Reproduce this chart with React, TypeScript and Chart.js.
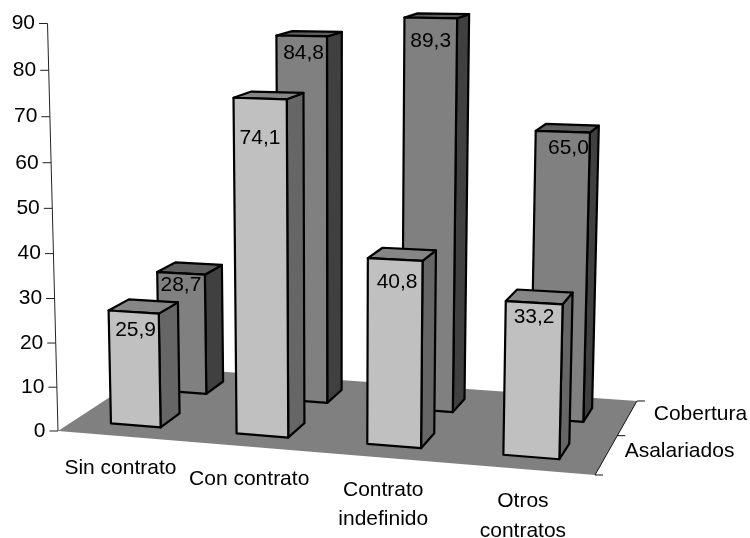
import React, { useEffect, useRef } from "react";
import { Chart, registerables } from "chart.js";

Chart.register(...registerables);

// Chart content
const categories = [["Sin contrato"], ["Con contrato"], ["Contrato", "indefinido"], ["Otros", "contratos"]];
const seriesNames = ["Asalariados", "Cobertura"];
const asalariados = [25.9, 74.1, 40.8, 33.2];
const cobertura = [28.7, 84.8, 89.3, 65.0];

// Face colours of each prism
const frontColors = ["#c0c0c0", "#808080"];
const sideColors = ["#666666", "#404040"];
const topColors = ["#868686", "#5e5e5e"];
const floorColor = "#808080";

// Value label offsets from the top centre of a bar's front face
const labelOffsets = [
  [[2, 18.5], [0, 40], [2, 22.5], [0, 15]],
  [[0, 12], [2, 17], [0, 23], [5.7, 16.5]],
];

// Perspective transform: (across, depth, height), each 0..1, to canvas pixels
const P = {
  a: 490.3, b: 117.2, p: -12.23, c: 58,
  d: 6.7, e: -18.75, q: -408.36, f: 431,
  g: -0.0785, h: 0.1233, r: -0.0365,
};
const project = (X: number, Y: number, Z: number): [number, number] => {
  const w = 1 + P.g * X + P.h * Y + P.r * Z;
  return [(P.a * X + P.b * Y + P.p * Z + P.c) / w, (P.d * X + P.e * Y + P.q * Z + P.f) / w];
};

const FONT = '21px "Liberation Sans", Arial, sans-serif';
const TEXT = "#000000";
// Share of each series band taken up by the bar's depth
const DEPTH_SHARE = 0.4;

const polygon = (ctx: CanvasRenderingContext2D, pts: [number, number][], fill: string | null, stroke: string | null, width = 1) => {
  ctx.beginPath();
  pts.forEach(([x, y], i) => (i ? ctx.lineTo(x, y) : ctx.moveTo(x, y)));
  if (fill) {
    ctx.closePath();
    ctx.fillStyle = fill;
    ctx.fill();
  }
  if (stroke) {
    ctx.strokeStyle = stroke;
    ctx.lineWidth = width;
    ctx.stroke();
  }
};

// Replaces the flat bars with prisms standing on a perspective floor
const perspectiveBars = {
  id: "perspectiveBars",
  beforeDatasetsDraw(chart: any) {
    const { ctx, chartArea: area, scales } = chart;
    const across = (px: number) => (px - area.left) / area.width;
    const up = (py: number) => (area.bottom - py) / area.height;
    const depthScale = scales.depth;
    const depthOf = (i: number) => (depthScale.getPixelForValue(i) - depthScale.left) / depthScale.width;
    const depthHalf = DEPTH_SHARE / seriesNames.length / 2;

    ctx.save();
    ctx.lineJoin = "round";
    ctx.font = FONT;
    ctx.fillStyle = TEXT;

    // Floor
    polygon(ctx, [project(0, 0, 0), project(1, 0, 0), project(1, 1, 0), project(0, 1, 0)], floorColor, null);

    // Value axis with its ticks
    polygon(ctx, [project(0, 0, 0), project(0, 0, 1)], null, "#222222", 1);
    ctx.textAlign = "right";
    ctx.textBaseline = "middle";
    for (const tick of scales.y.ticks) {
      const [x, y] = project(0, 0, up(scales.y.getPixelForValue(tick.value)));
      polygon(ctx, [[x - 8.5, y], [x, y]], null, "#222222", 1);
      ctx.fillStyle = TEXT;
      ctx.fillText(String(tick.label), x - 12.5, y);
    }

    // Depth axis on the floor's right edge
    polygon(ctx, [project(1, 0, 0), project(1, 1, 0)], null, "#111111", 1);
    [0, 0.5, 1].forEach((Y) => {
      const [x, y] = project(1, Y, 0);
      polygon(ctx, [[x, y], [x + 8, y]], null, "#111111", 1);
    });

    // Prisms, rear row first
    for (let s = seriesNames.length - 1; s >= 0; s--) {
      const meta = chart.getDatasetMeta(s);
      const ds = chart.data.datasets[s];
      const y0 = depthOf(s) - depthHalf;
      const y1 = depthOf(s) + depthHalf;
      meta.data.forEach((bar: any) => {
        const x0 = across(bar.x - bar.width / 2);
        const x1 = across(bar.x + bar.width / 2);
        const z = up(bar.y);
        const fb = up(bar.base);
        const outline = (pts: [number, number][], fill: string) => polygon(ctx, pts, fill, "#000000", 2.2);
        outline([project(x1, y0, fb), project(x1, y1, fb), project(x1, y1, z), project(x1, y0, z)], ds.sideColor);
        outline([project(x0, y0, z), project(x1, y0, z), project(x1, y1, z), project(x0, y1, z)], ds.topColor);
        outline([project(x0, y0, fb), project(x1, y0, fb), project(x1, y0, z), project(x0, y0, z)], ds.backgroundColor);
      });
    }

    ctx.fillStyle = TEXT;
    ctx.textAlign = "center";

    // Value labels
    for (let s = 0; s < seriesNames.length; s++) {
      const meta = chart.getDatasetMeta(s);
      const y0 = depthOf(s) - depthHalf;
      meta.data.forEach((bar: any, i: number) => {
        const [x, y] = project(across(bar.x), y0, up(bar.y));
        const [dx, dy] = labelOffsets[s][i];
        const value: number = chart.data.datasets[s].data[i];
        ctx.fillText(value.toFixed(1).replace(".", ","), x + dx, y + dy);
      });
    }

    // Category labels below the front edge of the floor
    categories.forEach((lines, i) => {
      const [x, y] = project(across(scales.x.getPixelForValue(i)), 0, 0);
      lines.forEach((line, n) => ctx.fillText(line, x, y + 32.5 + n * 29.5));
    });

    // Series labels to the right of the floor
    seriesNames.forEach((name, s) => {
      const [x, y] = project(1, depthOf(s), 0);
      ctx.fillText(name, x + 73, y - 3.4);
    });

    ctx.restore();
    return false;
  },
};

export default function App() {
  const canvasRef = useRef<HTMLCanvasElement | null>(null);

  useEffect(() => {
    const chart = new Chart(canvasRef.current as HTMLCanvasElement, {
      type: "bar",
      data: {
        labels: categories.map((lines) => lines.join(" ")),
        datasets: [asalariados, cobertura].map((data, s) => ({
          label: seriesNames[s],
          data,
          backgroundColor: frontColors[s],
          sideColor: sideColors[s],
          topColor: topColors[s],
          borderWidth: 0,
          grouped: false,
          barPercentage: 0.4,
          categoryPercentage: 1,
        })) as any,
      },
      options: {
        responsive: false,
        animation: false,
        layout: { padding: { left: 58, right: 113, top: 23, bottom: 107 } },
        plugins: { legend: { display: false }, tooltip: { enabled: false } },
        scales: {
          x: { type: "category", display: false, offset: true },
          y: { type: "linear", display: false, min: 0, max: 90, ticks: { stepSize: 10 } },
          depth: { type: "category", axis: "x", position: "top", display: false, offset: true, labels: seriesNames },
        },
      },
      plugins: [perspectiveBars],
    } as any);
    return () => chart.destroy();
  }, []);

  return (
    <div style={{ position: "fixed", left: 0, top: 0, width: 750, height: 538, background: "#ffffff" }}>
      <canvas ref={canvasRef} width={750} height={538} style={{ display: "block" }} />
    </div>
  );
}
